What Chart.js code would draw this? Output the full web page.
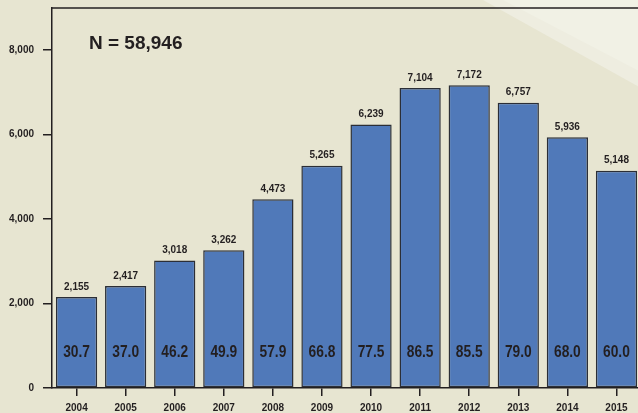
<!DOCTYPE html>
<html>
<head>
<meta charset="utf-8">
<script src="https://cdn.jsdelivr.net/npm/chart.js@4.4.1/dist/chart.umd.min.js"></script>
<style>
  html, body { margin: 0; padding: 0; background: #e7e5d1; overflow: hidden; }
  #wrap { position: relative; width: 641px; height: 421px; }
</style>
</head>
<body>
<div id="wrap"><canvas id="myChart"></canvas></div>
<script>
// values
var years = ['2004', '2005', '2006', '2007', '2008', '2009', '2010', '2011', '2012', '2013', '2014', '2015'];
var counts = [2155, 2417, 3018, 3262, 4473, 5265, 6239, 7104, 7172, 6757, 5936, 5148];
var rates = ['30.7', '37.0', '46.2', '49.9', '57.9', '66.8', '77.5', '86.5', '85.5', '79.0', '68.0', '60.0'];
var yTicks = [0, 2000, 4000, 6000, 8000];
var totalText = 'N = 58,946';

var ink = '#231f20';
var fontFam = '"Liberation Sans", Arial, sans-serif';

// beige page with the lighter wedge at the top right
var backdrop = {
  id: 'backdrop',
  beforeDraw: function (chart) {
    var ctx = chart.ctx;
    ctx.save();
    ctx.fillStyle = '#e7e5d1';
    ctx.fillRect(0, 0, chart.width, chart.height);
    ctx.fillStyle = '#eeede0';
    ctx.beginPath();
    ctx.moveTo(483, 0);
    ctx.lineTo(chart.width, 0);
    ctx.lineTo(chart.width, 88);
    ctx.closePath();
    ctx.fill();
    ctx.fillStyle = '#f1f1e5';
    ctx.beginPath();
    ctx.moveTo(503, 0);
    ctx.lineTo(chart.width, 0);
    ctx.lineTo(chart.width, 72);
    ctx.closePath();
    ctx.fill();
    ctx.restore();
  }
};

// top frame line, N label, value labels
var labels = {
  id: 'labels',
  afterDatasetsDraw: function (chart) {
    var ctx = chart.ctx;
    var area = chart.chartArea;
    var meta = chart.getDatasetMeta(0);
    ctx.save();
    ctx.strokeStyle = ink;
    ctx.lineWidth = 1.5;
    ctx.beginPath();
    ctx.moveTo(area.left, area.top);
    ctx.lineTo(chart.width, area.top);
    ctx.stroke();

    ctx.fillStyle = ink;
    ctx.textBaseline = 'middle';
    ctx.textAlign = 'left';
    ctx.font = 'bold 19px ' + fontFam;
    ctx.fillText(totalText, 89, 44);

    ctx.textAlign = 'center';
    meta.data.forEach(function (bar, i) {
      ctx.font = 'bold 10px ' + fontFam;
      ctx.fillText(counts[i].toLocaleString('en-US'), bar.x, bar.y - 10);

      ctx.save();
      ctx.translate(bar.x, area.bottom - 35);
      ctx.scale(0.86, 1);
      ctx.font = 'bold 16px ' + fontFam;
      ctx.fillText(rates[i], 0, 0);
      ctx.restore();
    });
    ctx.restore();
  }
};

var ctx = document.getElementById('myChart');
new Chart(ctx, {
  type: 'bar',
  data: {
    labels: years,
    datasets: [{
      data: counts,
      backgroundColor: '#5079b9',
      borderColor: '#2b2e36',
      borderWidth: 1.5,
      borderSkipped: false,
      barPercentage: 0.84,
      categoryPercentage: 1
    }]
  },
  options: {
    responsive: true,
    maintainAspectRatio: false,
    animation: false,
    layout: { padding: { top: 8, left: 0, right: 0, bottom: 1 } },
    plugins: {
      legend: { display: false },
      tooltip: { enabled: false }
    },
    scales: {
      x: {
        grid: {
          offset: false,
          drawOnChartArea: false,
          color: ink,
          lineWidth: 1.5,
          tickLength: 8
        },
        border: { color: ink, width: 1.5 },
        ticks: {
          color: ink,
          padding: 6,
          maxRotation: 0,
          font: { family: fontFam, size: 10, weight: 'bold' }
        }
      },
      y: {
        min: 0,
        max: 9000,
        afterBuildTicks: function (axis) {
          axis.ticks = yTicks.map(function (v) { return { value: v }; });
        },
        afterFit: function (axis) {
          // top tick is 8,000, not at the frame, so no room is needed above
          axis.paddingTop = 0;
        },
        grid: {
          drawOnChartArea: false,
          color: ink,
          lineWidth: 1.5,
          tickLength: 9
        },
        border: { color: ink, width: 1.5 },
        ticks: {
          color: ink,
          padding: 9,
          font: { family: fontFam, size: 10, weight: 'bold' },
          callback: function (v) { return v.toLocaleString('en-US'); }
        }
      }
    }
  },
  plugins: [backdrop, labels]
});
</script>
</body>
</html>
